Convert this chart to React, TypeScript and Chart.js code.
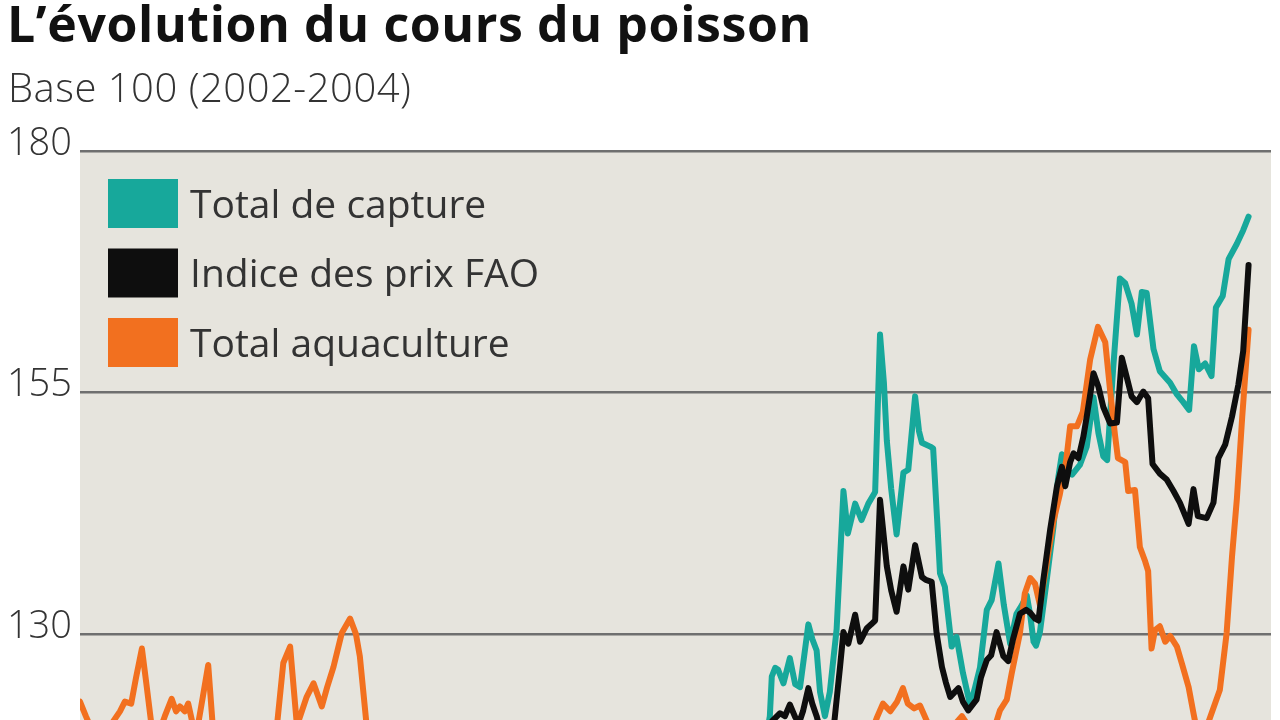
import React, { useEffect, useRef } from "react";
import { Chart, registerables } from "chart.js";

Chart.register(...registerables);

const TITLE = "L’évolution du cours du poisson";
const SUBTITLE = "Base 100 (2002-2004)";

const seriesLabels = ["Total de capture", "Indice des prix FAO", "Total aquaculture"];
const seriesColors = ["#17a89b", "#0e0e0e", "#f2701f"];

const yTicks = [130, 155, 180];
const yMin = 121.1;
const yMax = 180;
const xMin = 1990;
const xMax = 2014.43;

// Total aquaculture
const aquaYears = [
  1990.0, 1990.12, 1990.25, 1990.41, 1990.62, 1990.82, 1990.92, 1991.05, 1991.15, 1991.27,
  1991.37, 1991.48, 1991.6, 1991.74, 1991.88, 1991.97, 1992.05, 1992.15, 1992.22, 1992.32,
  1992.4, 1992.52, 1992.63, 1992.73, 1992.87, 1993.28, 1993.69, 1994.02, 1994.17, 1994.31,
  1994.45, 1994.55, 1994.65, 1994.79, 1994.96, 1995.07, 1995.2, 1995.37, 1995.54, 1995.66,
  1995.74, 1995.88, 1995.99, 1997.59, 1999.64, 2001.69, 2003.95, 2005.79, 2006.21, 2006.35,
  2006.47, 2006.62, 2006.76, 2006.88, 2006.98, 2007.11, 2007.23, 2007.37, 2007.52, 2007.85,
  2007.97, 2008.09, 2008.22, 2008.56, 2008.79, 2008.87, 2009.01, 2009.11, 2009.28, 2009.38,
  2009.49, 2009.59, 2009.69, 2009.82, 2009.96, 2010.1, 2010.23, 2010.31, 2010.45, 2010.57,
  2010.72, 2010.88, 2011.03, 2011.13, 2011.23, 2011.29, 2011.44, 2011.5, 2011.64, 2011.74,
  2011.85, 2011.91, 2011.98, 2012.05, 2012.15, 2012.26, 2012.36, 2012.5, 2012.61, 2012.74,
  2012.84, 2012.93, 2013.12, 2013.26, 2013.38, 2013.52, 2013.63, 2013.73, 2013.84, 2013.97,
];
const aquaValues = [
  123.0, 121.5, 120.0, 119.5, 120.5, 122.0, 123.0, 122.8, 125.5, 128.5,
  124.5, 120.0, 119.5, 121.5, 123.3, 122.0, 122.5, 122.0, 122.8, 120.5,
  120.0, 123.5, 126.8, 120.0, 118.5, 118.0, 118.5, 119.5, 127.0, 128.7,
  120.5, 122.0, 123.5, 124.9, 122.5, 124.5, 126.6, 130.1, 131.6, 130.0,
  127.7, 120.5, 118.5, 116.0, 117.0, 115.5, 116.5, 118.0, 119.5, 121.4,
  122.8, 122.0, 123.0, 124.4, 122.8, 122.3, 122.6, 121.0, 119.0, 119.5,
  120.8, 121.5, 120.5, 119.5, 120.8, 122.1, 123.2, 125.9, 130.1, 134.2,
  135.8, 135.2, 133.0, 137.0, 141.5, 144.5, 148.0, 151.5, 151.5, 153.0,
  158.4, 161.8, 160.2, 155.2, 150.6, 148.2, 147.8, 144.8, 144.9, 139.0,
  137.5, 136.5, 128.5, 130.4, 130.8, 129.2, 129.8, 128.7, 126.8, 124.5,
  121.8, 119.5, 120.5, 122.5, 124.2, 130.1, 138.0, 144.0, 152.5, 161.5,
];

// Total de capture
const captureYears = [
  2004.05, 2004.15, 2004.19, 2004.26, 2004.32, 2004.43, 2004.56, 2004.67, 2004.77, 2004.94,
  2005.02, 2005.11, 2005.18, 2005.28, 2005.38, 2005.52, 2005.66, 2005.75, 2005.9, 2006.03,
  2006.17, 2006.31, 2006.41, 2006.49, 2006.55, 2006.64, 2006.75, 2006.89, 2006.99, 2007.13,
  2007.21, 2007.27, 2007.44, 2007.5, 2007.58, 2007.64, 2007.74, 2007.88, 2007.98, 2008.11,
  2008.26, 2008.36, 2008.46, 2008.6, 2008.7, 2008.84, 2008.95, 2009.08, 2009.21, 2009.32,
  2009.42, 2009.49, 2009.56, 2009.61, 2009.69, 2009.84, 2009.97, 2010.06, 2010.14, 2010.25,
  2010.35, 2010.51, 2010.65, 2010.79, 2010.89, 2010.99, 2011.07, 2011.19, 2011.33, 2011.44,
  2011.57, 2011.68, 2011.78, 2011.88, 2012.02, 2012.15, 2012.36, 2012.5, 2012.63, 2012.75,
  2012.85, 2012.95, 2013.08, 2013.21, 2013.3, 2013.44, 2013.56, 2013.73, 2013.86, 2013.97,
];
const captureValues = [
  118.5, 121.5, 125.6, 126.5, 126.3, 124.9, 127.5, 124.8, 124.5, 131.0,
  129.5, 128.3, 124.0, 121.5, 124.0, 130.5, 144.8, 140.4, 143.5, 141.8,
  143.5, 144.7, 161.0, 156.0, 150.0, 145.0, 140.3, 146.7, 147.0, 154.6,
  151.0, 149.8, 149.4, 149.2, 142.0, 136.3, 134.9, 128.7, 129.7, 126.0,
  122.6, 124.5, 126.5, 132.5, 133.5, 137.3, 133.0, 129.0, 132.1, 133.0,
  134.0, 132.0, 129.2, 128.8, 130.2, 136.0, 141.2, 146.0, 148.6, 147.0,
  146.5, 147.5, 149.4, 154.5, 150.8, 148.4, 148.0, 157.3, 166.8, 166.3,
  164.2, 161.0, 165.4, 165.3, 159.5, 157.2, 156.0, 154.8, 154.0, 153.2,
  159.8, 157.4, 158.0, 156.7, 163.8, 165.0, 168.8, 170.4, 171.8, 173.2,
];

// Indice des prix FAO
const faoYears = [
  2004.05, 2004.2, 2004.36, 2004.46, 2004.56, 2004.67, 2004.75, 2004.83, 2004.94, 2005.02,
  2005.11, 2005.2, 2005.45, 2005.52, 2005.59, 2005.66, 2005.76, 2005.9, 2006.0, 2006.14,
  2006.23, 2006.31, 2006.41, 2006.55, 2006.64, 2006.75, 2006.89, 2006.99, 2007.13, 2007.27,
  2007.35, 2007.47, 2007.57, 2007.68, 2007.76, 2007.85, 2008.02, 2008.11, 2008.22, 2008.39,
  2008.48, 2008.6, 2008.69, 2008.8, 2008.94, 2009.04, 2009.14, 2009.28, 2009.41, 2009.49,
  2009.59, 2009.66, 2009.76, 2009.9, 2010.04, 2010.14, 2010.21, 2010.31, 2010.38, 2010.48,
  2010.58, 2010.65, 2010.79, 2010.89, 2010.99, 2011.13, 2011.27, 2011.37, 2011.47, 2011.57,
  2011.68, 2011.81, 2011.91, 2012.0, 2012.15, 2012.29, 2012.43, 2012.56, 2012.74, 2012.84,
  2012.93, 2013.11, 2013.25, 2013.35, 2013.49, 2013.63, 2013.76, 2013.86, 2013.97,
];
const faoValues = [
  118.0, 121.0, 121.8, 121.5, 122.7, 121.4, 120.8, 122.0, 124.4, 122.8,
  121.5, 119.8, 119.8, 123.2, 126.6, 130.2, 129.0, 132.0, 129.2, 130.6,
  131.0, 131.4, 143.9, 137.0, 134.5, 132.3, 137.0, 134.6, 139.2, 135.9,
  135.6, 135.4, 130.1, 126.6, 125.0, 123.5, 124.4, 123.0, 122.1, 123.2,
  125.5, 127.3, 127.8, 130.2, 127.7, 127.2, 129.5, 132.1, 132.5, 132.2,
  131.6, 131.4, 135.6, 140.8, 145.3, 147.3, 145.3, 147.8, 148.7, 148.2,
  150.4, 152.5, 157.0, 155.6, 153.5, 151.8, 151.9, 158.6, 156.6, 154.6,
  154.0, 155.1, 154.4, 147.6, 146.6, 146.0, 144.8, 143.6, 141.4, 145.0,
  142.2, 142.0, 143.6, 148.2, 149.6, 152.5, 155.8, 159.3, 168.2,
];

const FONT = "'Open Sans', 'Noto Sans', sans-serif";

function pairs(xs: number[], ys: number[]) {
  return xs.map((x, i) => ({ x, y: ys[i] }));
}

export default function App() {
  const canvasRef = useRef<HTMLCanvasElement | null>(null);

  useEffect(() => {
    const canvas = canvasRef.current;
    if (!canvas) return;

    const backgroundPlugin = {
      id: "areaBackground",
      beforeDraw(chart: any) {
        const { ctx, chartArea } = chart;
        ctx.save();
        ctx.fillStyle = "#e6e4dd";
        ctx.fillRect(chartArea.left, chartArea.top, chartArea.right - chartArea.left, chartArea.bottom - chartArea.top);
        ctx.restore();
      },
    };

    const boxLegendPlugin = {
      id: "boxLegend",
      afterDraw(chart: any) {
        const { ctx, chartArea } = chart;
        const x0 = chartArea.left + 28;
        const y0 = chartArea.top + 28;
        const boxW = 70;
        const boxH = 49;
        const step = 69.5;
        ctx.save();
        chart.data.datasets.forEach((ds: any, i: number) => {
          const y = y0 + i * step;
          ctx.fillStyle = ds.borderColor;
          ctx.fillRect(x0, y, boxW, boxH);
          ctx.fillStyle = "#333333";
          ctx.font = `400 39px ${FONT}`;
          ctx.textBaseline = "middle";
          ctx.textAlign = "left";
          ctx.fillText(ds.label, x0 + boxW + 12, y + boxH / 2 + 3);
        });
        ctx.restore();
      },
    };

    const chart = new Chart(canvas, {
      type: "line",
      data: {
        datasets: [
          {
            label: seriesLabels[0],
            data: pairs(captureYears, captureValues),
            borderColor: seriesColors[0],
            backgroundColor: seriesColors[0],
            order: 3,
          },
          {
            label: seriesLabels[1],
            data: pairs(faoYears, faoValues),
            borderColor: seriesColors[1],
            backgroundColor: seriesColors[1],
            order: 1,
          },
          {
            label: seriesLabels[2],
            data: pairs(aquaYears, aquaValues),
            borderColor: seriesColors[2],
            backgroundColor: seriesColors[2],
            order: 2,
          },
        ],
      },
      options: {
        animation: false,
        responsive: true,
        maintainAspectRatio: false,
        layout: { padding: { top: 151, left: 8, right: 9, bottom: 0 } },
        elements: {
          line: { borderWidth: 6, tension: 0, borderJoinStyle: "round", borderCapStyle: "round" },
          point: { radius: 0, hoverRadius: 0 },
        },
        plugins: {
          legend: { display: false },
          tooltip: { enabled: false },
          title: { display: false },
        },
        scales: {
          x: {
            type: "linear",
            min: xMin,
            max: xMax,
            display: false,
          },
          y: {
            min: yMin,
            max: yMax,
            afterBuildTicks: (axis: any) => {
              axis.ticks = yTicks.map((v) => ({ value: v }));
            },
            afterFit: (axis: any) => {
              axis.width = 72;
              axis.paddingTop = 0;
              axis.paddingBottom = 0;
            },
            border: { display: false },
            grid: {
              color: "#6f6f6f",
              lineWidth: 2.5,
              drawTicks: false,
            },
            ticks: {
              padding: 8,
              labelOffset: -7,
              color: "#333333",
              font: { family: FONT, size: 38, weight: "300" as any },
              callback: (v: any) => String(v),
            },
          },
        },
      },
      plugins: [backgroundPlugin, boxLegendPlugin],
    });

    return () => chart.destroy();
  }, []);

  return (
    <div style={{ position: "absolute", left: 0, top: 0, width: 1280, height: 720, overflow: "hidden", background: "#ffffff" }}>
      <div style={{ position: "absolute", left: 0, top: 0, width: 1280, height: 720 }}>
        <canvas ref={canvasRef} />
      </div>
      <div
        style={{
          position: "absolute",
          left: 7,
          top: -2,
          fontFamily: FONT,
          fontWeight: 700,
          fontSize: 50,
          lineHeight: "50px",
          color: "#111111",
          letterSpacing: "0.6px",
          whiteSpace: "nowrap",
        }}
      >
        {TITLE}
      </div>
      <div
        style={{
          position: "absolute",
          left: 8,
          top: 67,
          fontFamily: FONT,
          fontWeight: 300,
          fontSize: 40,
          lineHeight: "40px",
          color: "#333333",
          letterSpacing: "0.5px",
          whiteSpace: "nowrap",
        }}
      >
        {SUBTITLE}
      </div>
    </div>
  );
}
